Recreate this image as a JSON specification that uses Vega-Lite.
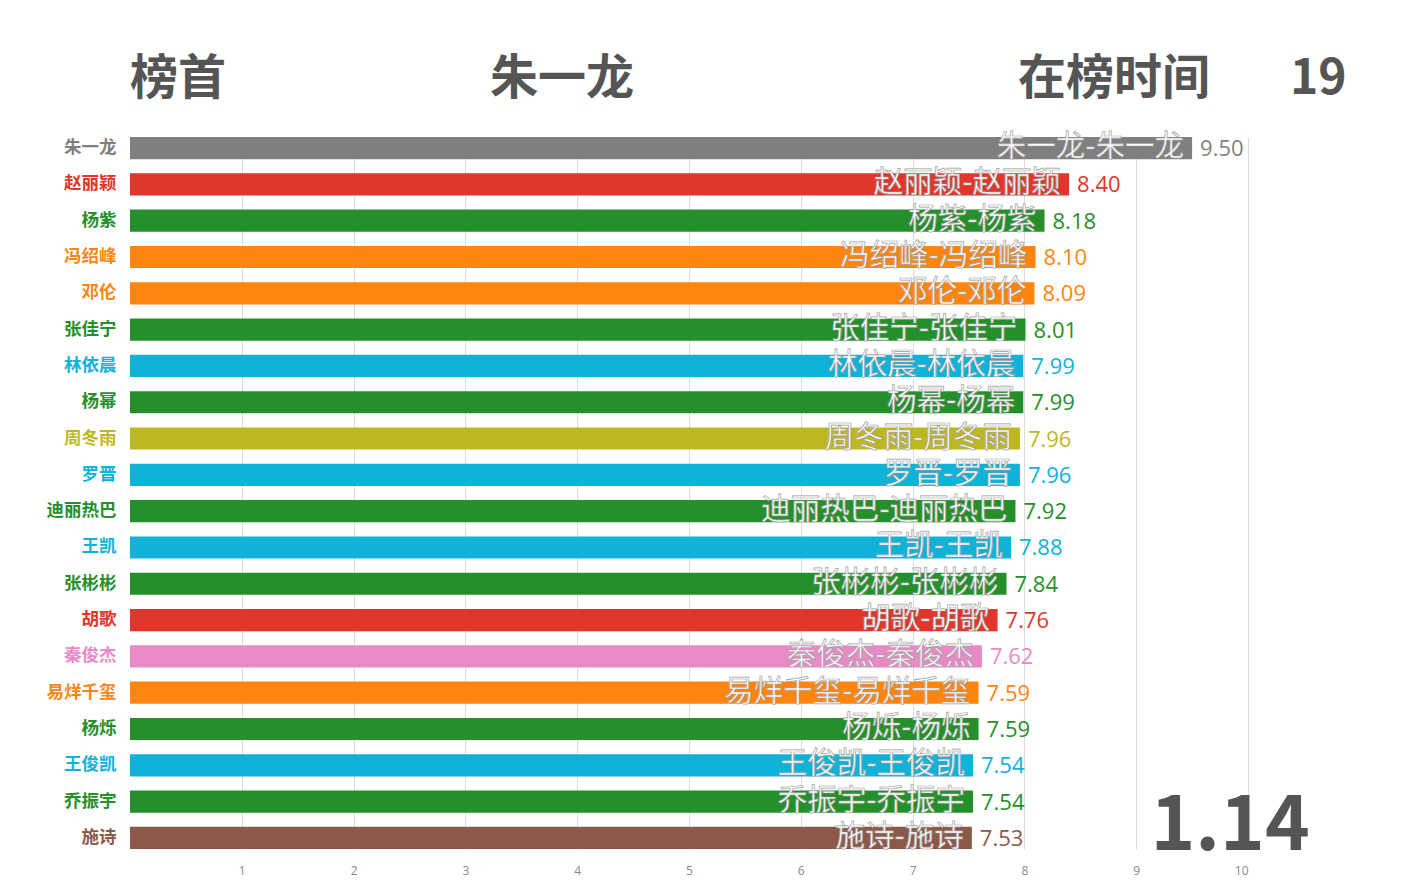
{
  "$schema": "https://vega.github.io/schema/vega-lite/v6.json",
  "width": 1118,
  "height": 712,
  "autosize": {"type": "none"},
  "padding": {"left": 130, "top": 137, "right": 175, "bottom": 40},
  "background": "white",
  "config": {"view": {"stroke": null}},
  "title": {
    "text": "榜首\u3000\u3000\u3000\u3000\u3000\u2002朱一龙\u3000\u3000\u3000\u3000\u3000\u3000\u3000\u3000在榜时间\u3000\u2002\u200619",
    "anchor": "start",
    "frame": "group",
    "font": "Noto Sans CJK SC",
    "fontSize": 48,
    "fontWeight": "bold",
    "color": "#555555",
    "baseline": "alphabetic",
    "offset": -10
  },
  "data": {
    "values": [
      {"name": "朱一龙", "label": "朱一龙-朱一龙", "value": 9.50},
      {"name": "赵丽颖", "label": "赵丽颖-赵丽颖", "value": 8.40},
      {"name": "杨紫", "label": "杨紫-杨紫", "value": 8.18},
      {"name": "冯绍峰", "label": "冯绍峰-冯绍峰", "value": 8.10},
      {"name": "邓伦", "label": "邓伦-邓伦", "value": 8.09},
      {"name": "张佳宁", "label": "张佳宁-张佳宁", "value": 8.01},
      {"name": "林依晨", "label": "林依晨-林依晨", "value": 7.99},
      {"name": "杨幂", "label": "杨幂-杨幂", "value": 7.99},
      {"name": "周冬雨", "label": "周冬雨-周冬雨", "value": 7.96},
      {"name": "罗晋", "label": "罗晋-罗晋", "value": 7.96},
      {"name": "迪丽热巴", "label": "迪丽热巴-迪丽热巴", "value": 7.92},
      {"name": "王凯", "label": "王凯-王凯", "value": 7.88},
      {"name": "张彬彬", "label": "张彬彬-张彬彬", "value": 7.84},
      {"name": "胡歌", "label": "胡歌-胡歌", "value": 7.76},
      {"name": "秦俊杰", "label": "秦俊杰-秦俊杰", "value": 7.62},
      {"name": "易烊千玺", "label": "易烊千玺-易烊千玺", "value": 7.59},
      {"name": "杨烁", "label": "杨烁-杨烁", "value": 7.59},
      {"name": "王俊凯", "label": "王俊凯-王俊凯", "value": 7.54},
      {"name": "乔振宇", "label": "乔振宇-乔振宇", "value": 7.54},
      {"name": "施诗", "label": "施诗-施诗", "value": 7.53}
    ]
  },
  "encoding": {
    "y": {
      "field": "name",
      "type": "nominal",
      "sort": ["朱一龙","赵丽颖","杨紫","冯绍峰","邓伦","张佳宁","林依晨","杨幂","周冬雨","罗晋","迪丽热巴","王凯","张彬彬","胡歌","秦俊杰","易烊千玺","杨烁","王俊凯","乔振宇","施诗"],
      "scale": {"paddingInner": 0.39, "paddingOuter": 0},
      "axis": {
        "title": null,
        "domain": false,
        "ticks": false,
        "labelPadding": 14,
        "labelFont": "Noto Sans CJK SC",
        "labelFontSize": 17.5,
        "labelFontWeight": "bold",
        "labelColor": {"expr": "scale('color', datum.value)"}
      }
    }
  },
  "layer": [
    {
      "mark": {"type": "bar"},
      "encoding": {
        "x": {
          "field": "value",
          "type": "quantitative",
          "scale": {"domain": [0, 10]},
          "axis": {
            "title": null,
            "values": [1,2,3,4,5,6,7,8,9,10],
            "format": "d",
            "domain": false,
            "ticks": false,
            "grid": true,
            "gridColor": "#dcdcdc",
            "labelColor": "#8a8a8a",
            "labelFont": "Open Sans",
            "labelFontSize": 12,
            "labelPadding": 16
          }
        },
        "color": {
          "field": "name",
          "type": "nominal",
          "legend": null,
          "scale": {
            "domain": ["朱一龙","赵丽颖","杨紫","冯绍峰","邓伦","张佳宁","林依晨","杨幂","周冬雨","罗晋","迪丽热巴","王凯","张彬彬","胡歌","秦俊杰","易烊千玺","杨烁","王俊凯","乔振宇","施诗"],
            "range": ["#7f7f7f","#e0362b","#248f2b","#ff8511","#ff8511","#248f2b","#10b2d8","#248f2b","#bdb722","#10b2d8","#248f2b","#10b2d8","#248f2b","#e0362b","#e88ac6","#ff8511","#248f2b","#10b2d8","#248f2b","#8c5848"]
          }
        }
      }
    },
    {
      "mark": {"type": "text", "align": "right", "baseline": "middle", "dx": -8, "dy": -1, "font": "Noto Sans CJK SC", "fontSize": 29.5, "color": "white", "stroke": "#a0a0a0", "strokeWidth": 0.7},
      "encoding": {
        "x": {"field": "value", "type": "quantitative"},
        "text": {"field": "label"}
      }
    },
    {
      "mark": {"type": "text", "align": "left", "baseline": "middle", "dx": 8, "dy": 1, "font": "Open Sans", "fontSize": 22},
      "encoding": {
        "x": {"field": "value", "type": "quantitative"},
        "text": {"field": "value", "format": ".2f"},
        "color": {"field": "name", "type": "nominal"}
      }
    },
    {
      "data": {"values": [{"name": "施诗", "pos": 9.84, "t": "1.14"}]},
      "mark": {"type": "text", "align": "center", "baseline": "alphabetic", "dy": 12, "font": "Noto Sans CJK SC", "fontWeight": "bold", "fontSize": 76, "color": "#555555"},
      "encoding": {
        "x": {"field": "pos", "type": "quantitative"},
        "text": {"field": "t"}
      }
    }
  ]
}
